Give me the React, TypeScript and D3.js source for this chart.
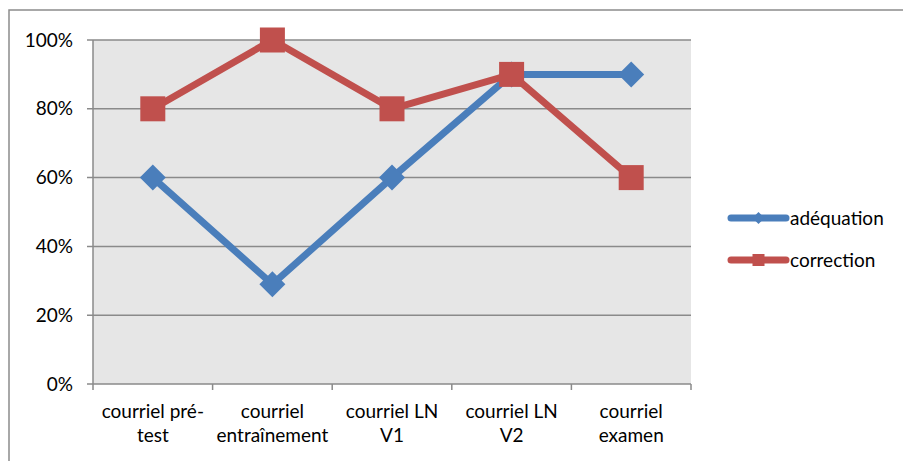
import React from "react";
import * as d3 from "d3";

const categories: string[][] = [
  ["courriel pré-", "test"],
  ["courriel", "entraînement"],
  ["courriel LN", "V1"],
  ["courriel LN", "V2"],
  ["courriel", "examen"],
];
const adequation = [0.6, 0.29, 0.6, 0.9, 0.9];
const correction = [0.8, 1.0, 0.8, 0.9, 0.6];
const yTicks = [0, 0.2, 0.4, 0.6, 0.8, 1.0];
const seriesNames = ["adéquation", "correction"];

const W = 903, H = 461;
const plot = { left: 93, top: 40, right: 691, bottom: 384 };
const BLUE = "#4a7ebb";
const RED = "#c0504d";
const FONT = "Lato, 'Open Sans', sans-serif";
const FS = 19;

export default function App() {
  const x = d3.scaleBand<number>().domain(d3.range(categories.length)).range([plot.left, plot.right]);
  const y = d3.scaleLinear().domain([0, 1]).range([plot.bottom, plot.top]);
  const cx = (i: number) => (x(i) as number) + x.bandwidth() / 2;
  const line = d3.line<number>().x((_, i) => cx(i)).y((d) => y(d));
  const fmt = d3.format(".0%");
  const diamond = (px: number, py: number, r: number) =>
    `M${px},${py - r}L${px + r},${py}L${px},${py + r}L${px - r},${py}Z`;
  const boundaries = d3.range(categories.length + 1).map((i) =>
    i < categories.length ? (x(i) as number) : plot.right
  );

  return (
    <svg width={W} height={H} style={{ position: "absolute", left: 0, top: 0 }}>
      <rect x={0} y={0} width={W} height={H} fill="#fff" />
      <rect x={9} y={10} width={W} height={H} fill="none" stroke="#8c8c8c" strokeWidth={1.5} />
      <rect x={plot.left} y={plot.top} width={plot.right - plot.left} height={plot.bottom - plot.top} fill="#e6e6e6" />
      {yTicks.map((t) => (
        <g key={t}>
          <line x1={plot.left - 6} x2={plot.right} y1={y(t)} y2={y(t)} stroke="#8a8a8a" strokeWidth={1.5} />
          <text x={73} y={y(t)} dy="0.35em" textAnchor="end" fontFamily={FONT} fontSize={FS} fill="#000">
            {fmt(t)}
          </text>
        </g>
      ))}
      <line x1={plot.left} x2={plot.left} y1={plot.top} y2={plot.bottom} stroke="#8a8a8a" strokeWidth={1.5} />
      {boundaries.map((bx, i) => (
        <line key={i} x1={bx} x2={bx} y1={plot.bottom} y2={plot.bottom + 6} stroke="#8a8a8a" strokeWidth={1.5} />
      ))}
      {categories.map((lines, i) => (
        <text key={i} x={cx(i)} y={418} textAnchor="middle" fontFamily={FONT} fontSize={FS} fill="#000">
          {lines.map((l, j) => (
            <tspan key={j} x={cx(i)} dy={j === 0 ? 0 : 24}>
              {l}
            </tspan>
          ))}
        </text>
      ))}
      <path d={line(adequation) as string} fill="none" stroke={BLUE} strokeWidth={7} strokeLinejoin="round" />
      {adequation.map((v, i) => (
        <path key={i} d={diamond(cx(i), y(v), 13)} fill={BLUE} />
      ))}
      <path d={line(correction) as string} fill="none" stroke={RED} strokeWidth={7} strokeLinejoin="round" />
      {correction.map((v, i) => (
        <rect key={i} x={cx(i) - 12.5} y={y(v) - 12.5} width={25} height={25} fill={RED} />
      ))}
      {seriesNames.map((name, k) => {
        const ly = 218 + k * 42;
        const col = k === 0 ? BLUE : RED;
        return (
          <g key={name}>
            <line x1={731} x2={786} y1={ly} y2={ly} stroke={col} strokeWidth={7} strokeLinecap="round" />
            {k === 0 ? (
              <path d={diamond(758.5, ly, 6)} fill={col} />
            ) : (
              <rect x={752.5} y={ly - 6} width={12} height={12} fill={col} />
            )}
            <text x={790} y={ly} dy="0.35em" fontFamily={FONT} fontSize={FS} fill="#000">
              {name}
            </text>
          </g>
        );
      })}
    </svg>
  );
}
